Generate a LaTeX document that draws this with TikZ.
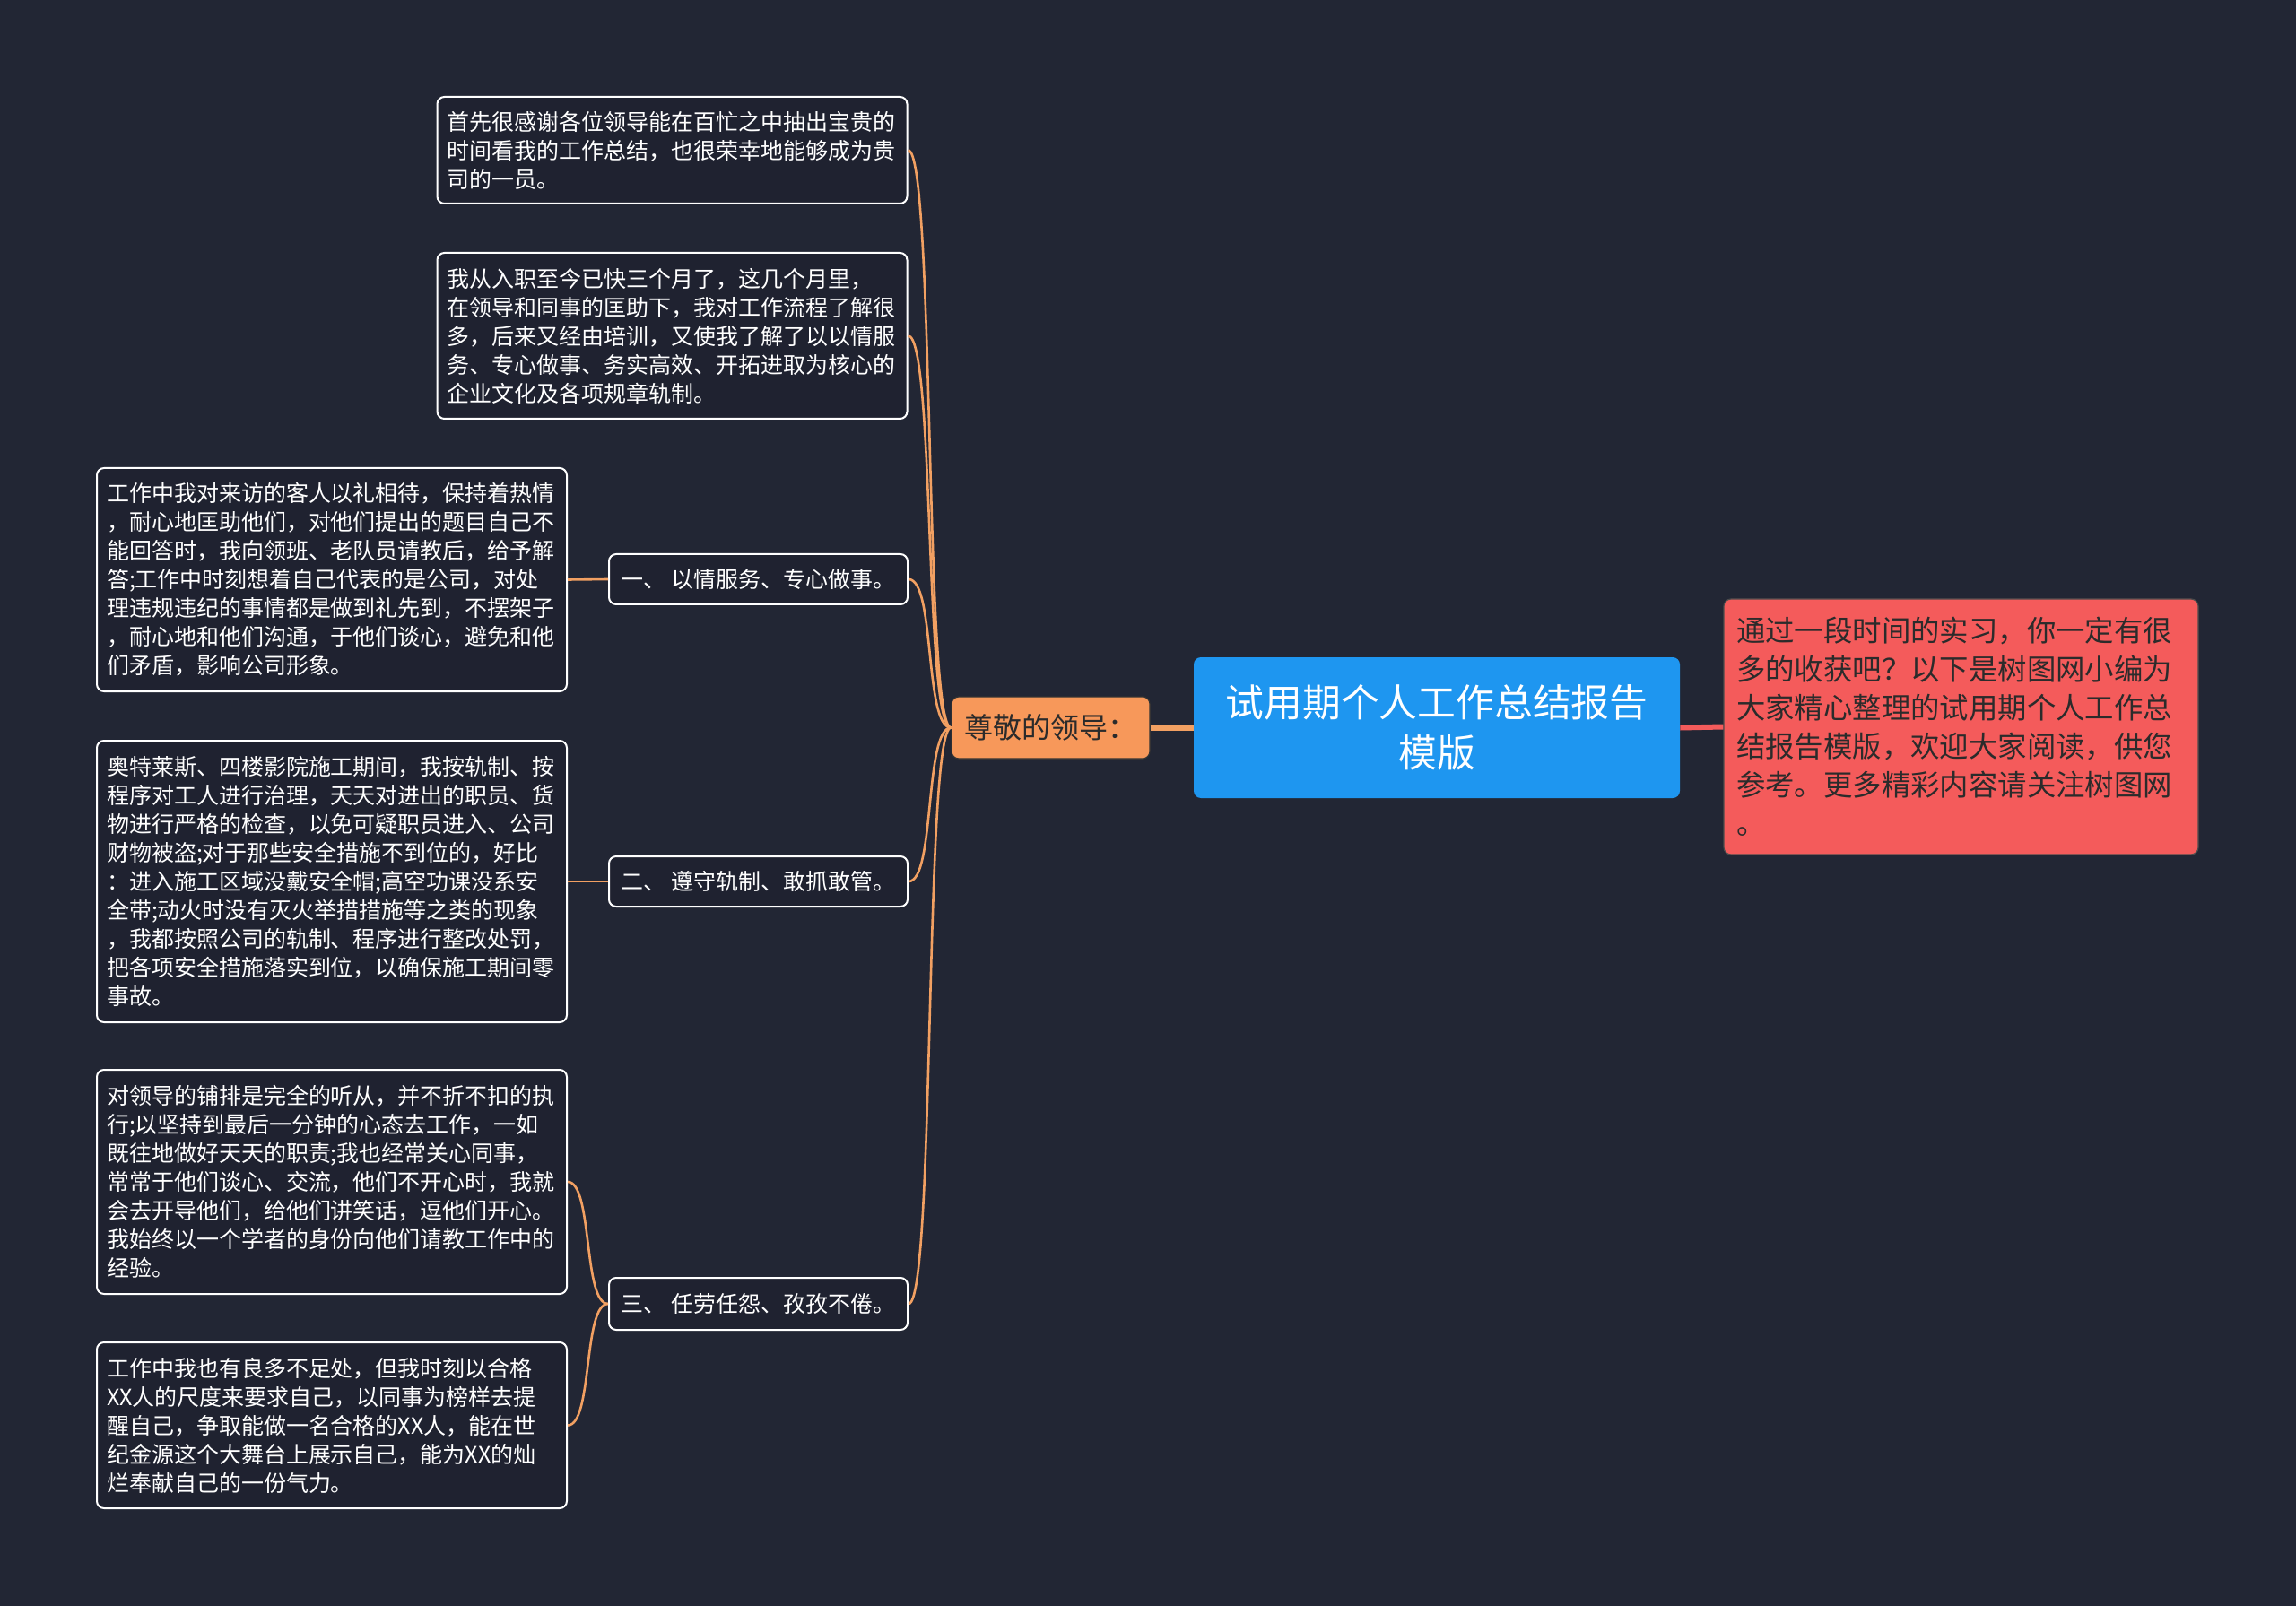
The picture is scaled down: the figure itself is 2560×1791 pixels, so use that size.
\documentclass[tikz,border=0pt]{standalone}
\usepackage{fontspec}
\newfontfamily\cjk{Noto Sans CJK SC}
\definecolor{bgc}{HTML}{222634}
\definecolor{boxbg}{HTML}{1F2230}
\definecolor{orangec}{HTML}{F7985A}
\definecolor{orangeln}{HTML}{F2A062}
\definecolor{bluec}{HTML}{1E96F0}
\definecolor{redc}{HTML}{F45B5B}
\definecolor{darktxt}{HTML}{2B2B2B}
\tikzset{
  txtbox/.style={draw=white, line width=1pt, fill=boxbg, rounded corners=4pt, text=white,
    font=\cjk\fontsize{12.5}{16}\selectfont, align=left, text width=251pt,
    inner xsep=5.5pt, inner ysep=0pt},
  topicbox/.style={draw=white, line width=1pt, fill=boxbg, rounded corners=4pt, text=white,
    font=\cjk\fontsize{12.5}{16}\selectfont, minimum width=166.5pt,
    inner xsep=0pt, inner ysep=0pt, minimum height=28pt},
  conn/.style={draw=orangeln, line width=1.3pt},
}
\begin{document}
\begin{tikzpicture}[x=0.5pt,y=-0.5pt]
\fill[bgc] (0,0) rectangle (2560,1791);
\useasboundingbox (0,0) rectangle (2560,1791);

% root
\node[fill=bluec, rounded corners=4pt, minimum width=271pt, minimum height=78.5pt,
  text=white, align=center, font=\cjk\fontsize{21.4}{27.8}\selectfont] (root) at (1602,811.5)
  {试用期个人工作总结报告\\模版};
% intro
\node[fill=redc, draw=black!70, line width=0.6pt, rounded corners=4pt, minimum width=264.5pt,
  minimum height=142.5pt, text width=250.5pt, inner xsep=7pt, text=darktxt, align=left,
  font=\cjk\fontsize{16.2}{21.5}\selectfont] (intro) at (2186.5,810.5)
  {通过一段时间的实习，你一定有很\\
多的收获吧？以下是树图网小编为\\
大家精心整理的试用期个人工作总\\
结报告模版，欢迎大家阅读，供您\\
参考。更多精彩内容请关注树图网\\
。};
% main branch
\node[fill=orangec, draw=black!80, line width=0.6pt, rounded corners=4pt, minimum width=110.5pt,
  minimum height=34.5pt, text=darktxt, font=\cjk\fontsize{16}{19}\selectfont] (zun) at (1171.5,811.5)
  {尊敬的领导：};

% children
\node[txtbox, minimum height=59.5pt] (b1) at (749.5,167.5)
  {首先很感谢各位领导能在百忙之中抽出宝贵的\\
时间看我的工作总结，也很荣幸地能够成为贵\\
司的一员。};
\node[txtbox, minimum height=92.5pt] (b2) at (749.5,374.5)
  {我从入职至今已快三个月了，这几个月里，\\
在领导和同事的匡助下，我对工作流程了解很\\
多，后来又经由培训，又使我了解了以以情服\\
务、专心做事、务实高效、开拓进取为核心的\\
企业文化及各项规章轨制。};
\node[topicbox] (t1) at (845.5,646) {一、 以情服务、专心做事。};
\node[topicbox] (t2) at (845.5,983) {二、 遵守轨制、敢抓敢管。};
\node[topicbox, minimum height=29pt] (t3) at (845.5,1454) {三、 任劳任怨、孜孜不倦。};

\node[txtbox, minimum height=124.5pt] (b3) at (370,646.5)
  {工作中我对来访的客人以礼相待，保持着热情\\
，耐心地匡助他们，对他们提出的题目自己不\\
能回答时，我向领班、老队员请教后，给予解\\
答;工作中时刻想着自己代表的是公司，对处\\
理违规违纪的事情都是做到礼先到，不摆架子\\
，耐心地和他们沟通，于他们谈心，避免和他\\
们矛盾，影响公司形象。};
\node[txtbox, minimum height=157pt] (b4) at (370,983)
  {奥特莱斯、四楼影院施工期间，我按轨制、按\\
程序对工人进行治理，天天对进出的职员、货\\
物进行严格的检查，以免可疑职员进入、公司\\
财物被盗;对于那些安全措施不到位的，好比\\
：进入施工区域没戴安全帽;高空功课没系安\\
全带;动火时没有灭火举措措施等之类的现象\\
，我都按照公司的轨制、程序进行整改处罚，\\
把各项安全措施落实到位，以确保施工期间零\\
事故。};
\node[txtbox, minimum height=125pt] (b5) at (370,1318)
  {对领导的铺排是完全的听从，并不折不扣的执\\
行;以坚持到最后一分钟的心态去工作，一如\\
既往地做好天天的职责;我也经常关心同事，\\
常常于他们谈心、交流，他们不开心时，我就\\
会去开导他们，给他们讲笑话，逗他们开心。\\
我始终以一个学者的身份向他们请教工作中的\\
经验。};
\node[txtbox, minimum height=92.5pt] (b6) at (370,1589.5)
  {工作中我也有良多不足处，但我时刻以合格\\
XX人的尺度来要求自己，以同事为榜样去提\\
醒自己，争取能做一名合格的XX人，能在世\\
纪金源这个大舞台上展示自己，能为XX的灿\\
烂奉献自己的一份气力。};

% connectors
\draw[orangeln, line width=3pt] (zun.east) -- (root.west);
\draw[redc, line width=3pt] (root.east) -- (intro.west);
\foreach \c in {b1,b2,t1,t2,t3}
  \draw[conn] (zun.west) .. controls +(-30,0) and +(30,0) .. (\c.east);
\draw[conn] (b3.east) -- (t1.west);
\draw[conn] (b4.east) -- (t2.west);
\draw[conn] (t3.west) .. controls +(-28,0) and +(28,0) .. (b5.east);
\draw[conn] (t3.west) .. controls +(-28,0) and +(28,0) .. (b6.east);
\end{tikzpicture}
\end{document}
